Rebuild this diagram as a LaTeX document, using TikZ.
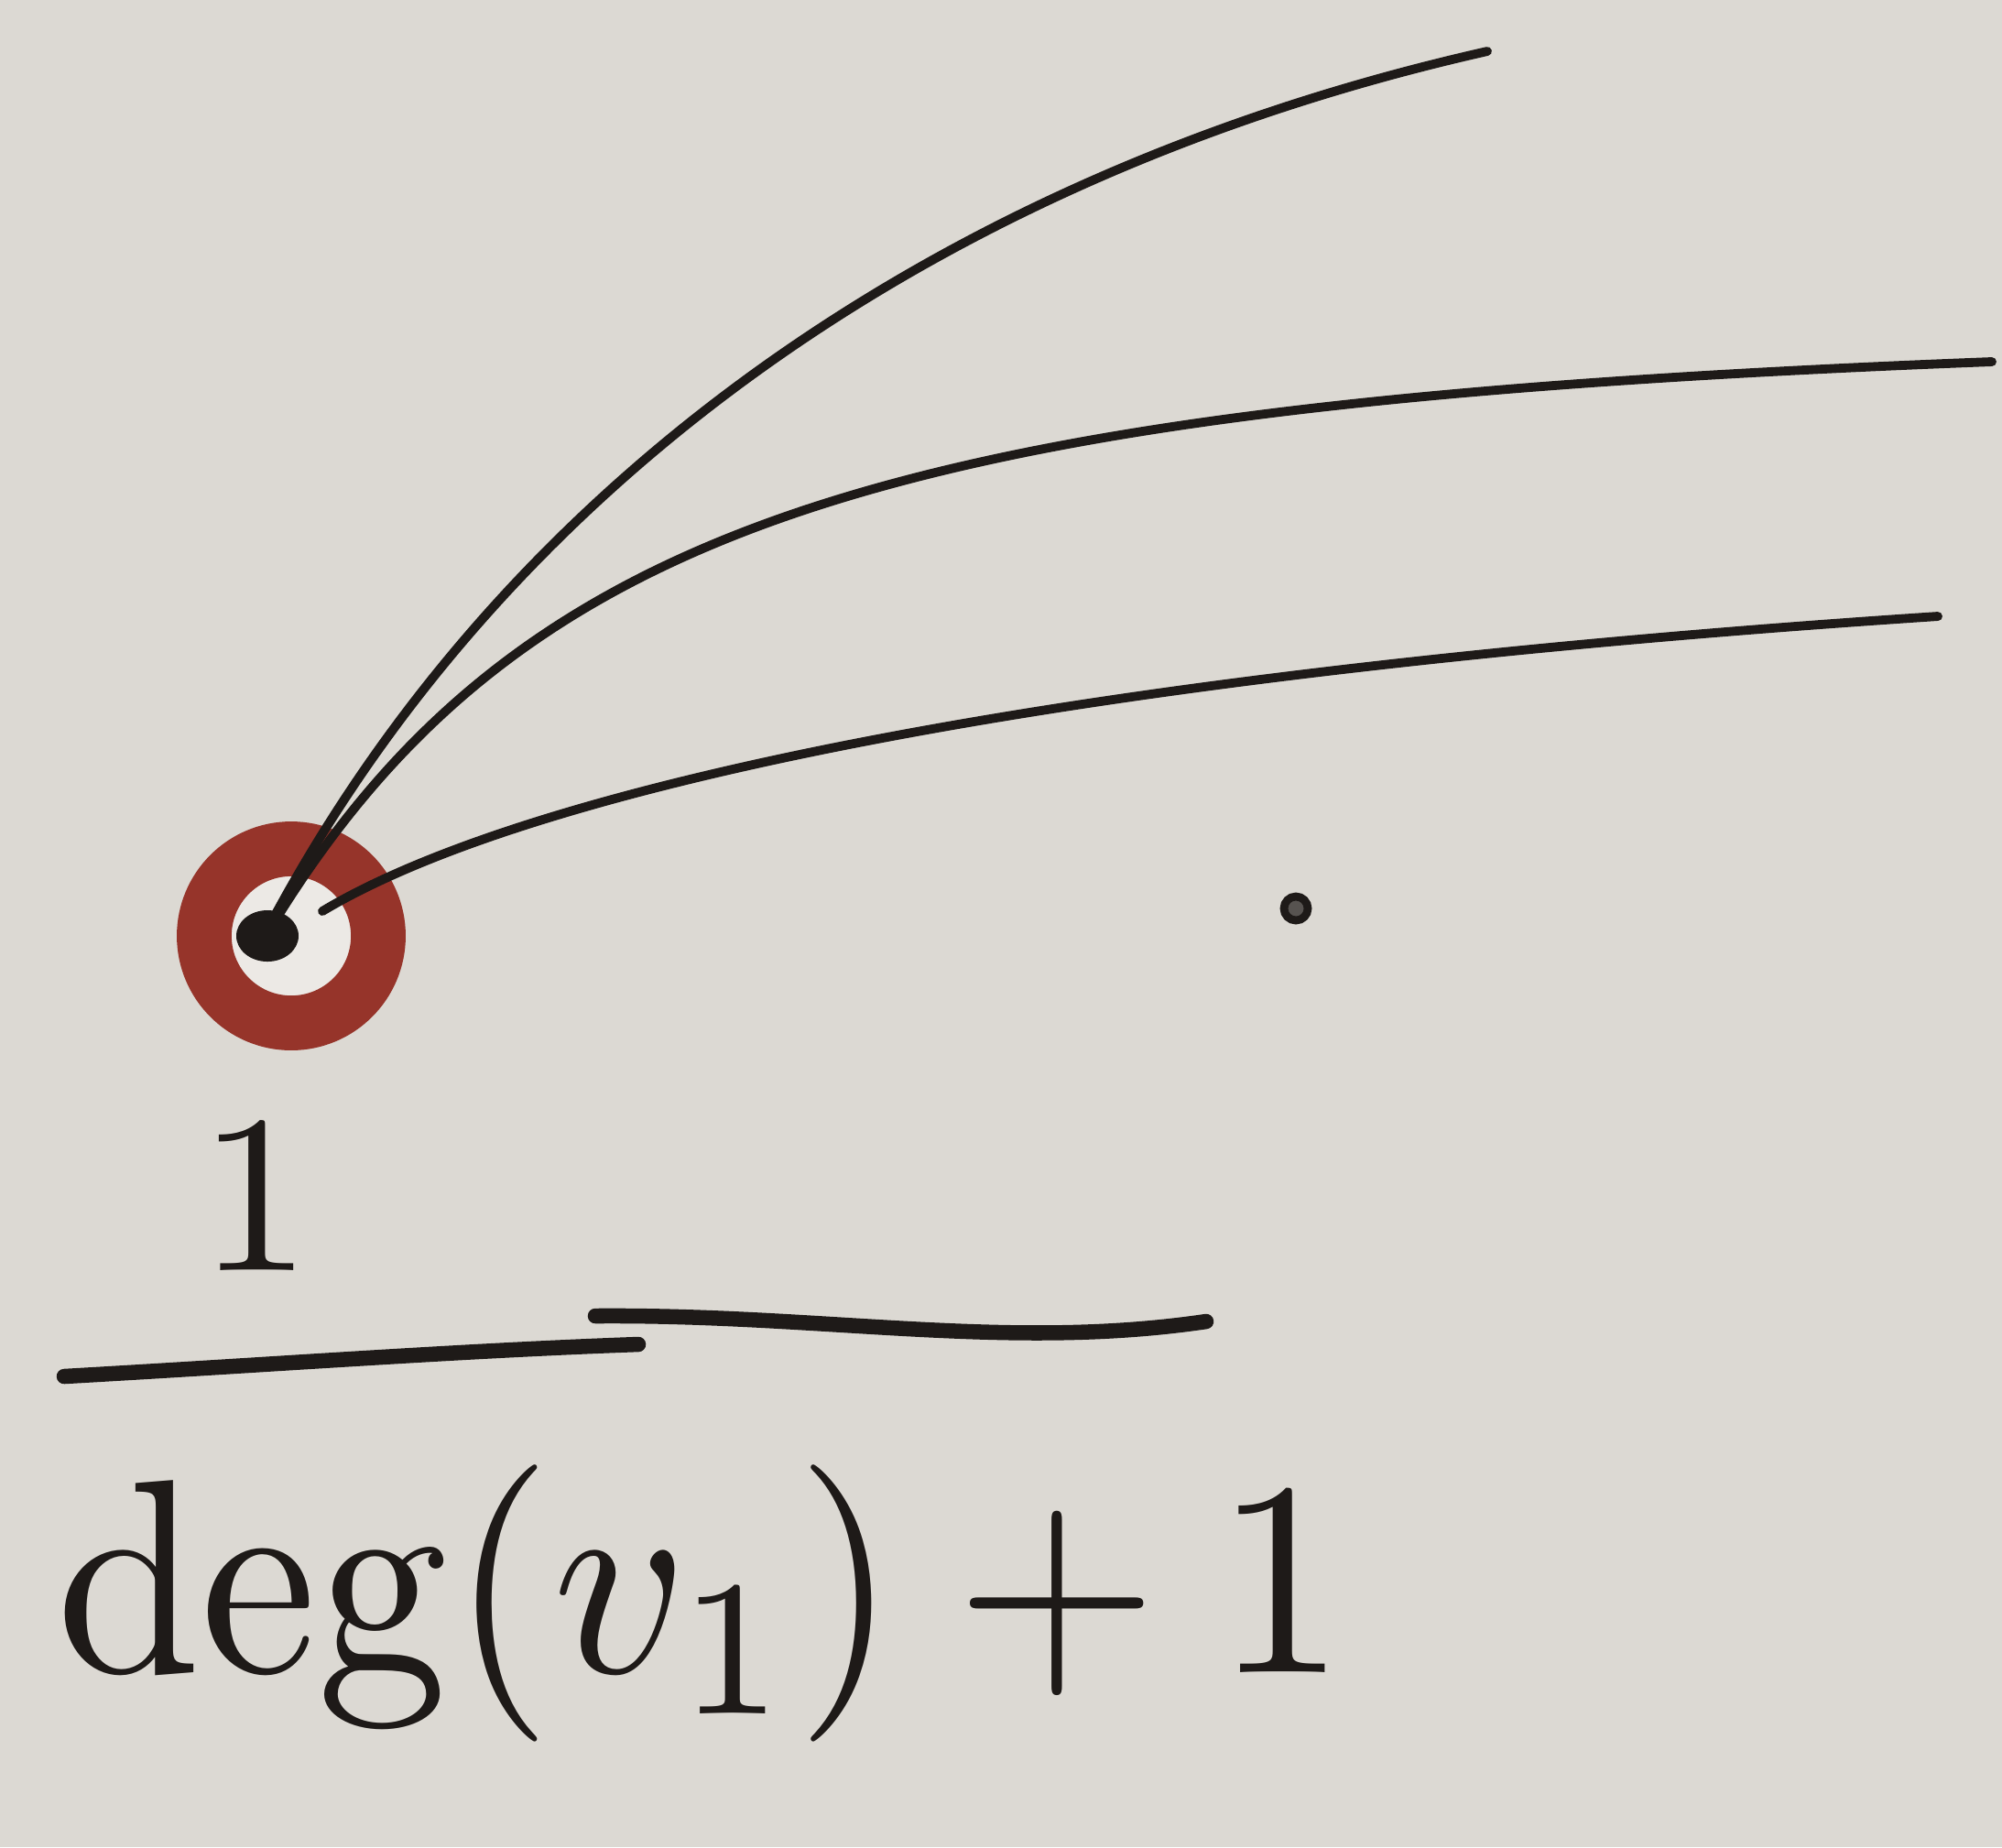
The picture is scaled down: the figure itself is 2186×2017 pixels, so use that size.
\documentclass[tikz,border=0pt]{standalone}
\definecolor{paper}{RGB}{220,217,211}
\definecolor{paperlight}{RGB}{236,233,229}
\definecolor{ringred}{RGB}{150,52,42}
\definecolor{ink}{RGB}{30,26,24}
\tikzset{
  edgeline/.style={draw=ink, line width=2.8pt, line cap=round},
  barline/.style={draw=ink, line width=4.7pt, line cap=round},
  vertexring/.style={circle, draw=ringred, line width=17pt, fill=paperlight, minimum size=1.9cm, inner sep=0pt},
  smalldot/.style={circle, draw=ink, line width=2.5pt, fill=ink!70!paper, minimum size=0.26cm, inner sep=0pt},
  bigtext/.style={text=ink, inner sep=0pt}
}
\begin{document}
\begin{tikzpicture}[x=0.01cm, y=-0.01cm]
  \fill[paper] (0,0) rectangle (2186,2017);
  \useasboundingbox (0,0) rectangle (2186,2017);

  % vertex
  \node[vertexring] (v) at (318,1022) {};
  \fill[ink] (292,1022) ellipse [x radius=34, y radius=28];
  \coordinate (s1) at (300,1000);
  \coordinate (s2) at (305,998);
  \coordinate (s3) at (352,995);
  \coordinate (e1) at (1624,56);
  \coordinate (e2) at (2175,395);
  \coordinate (e3) at (2116,673);

  \draw[edgeline] (s1) .. controls (560,520) and (1030,190) .. (e1);
  \draw[edgeline] (s2) .. controls (580,560) and (1000,440) .. (e2);
  \draw[edgeline] (s3) .. controls (560,870) and (1100,740) .. (e3);

  % small dot
  \node[smalldot] (dot) at (1415,992) {};

  % fraction
  \node[bigtext, scale=7, anchor=base] (one) at (279,1387) {$1$};
  \coordinate (b1) at (70,1503);
  \coordinate (b2) at (697,1468);
  \coordinate (b3) at (650,1437);
  \coordinate (b4) at (1317,1443);
  \draw[barline] (b1) .. controls (300,1490) and (500,1475) .. (b2);
  \draw[barline] (b3) .. controls (900,1435) and (1100,1475) .. (b4);
  \node[bigtext, xscale=8.1, yscale=8.6, anchor=base west] (den) at (56,1826) {$\deg(v_1)+1$};
\end{tikzpicture}
\end{document}
